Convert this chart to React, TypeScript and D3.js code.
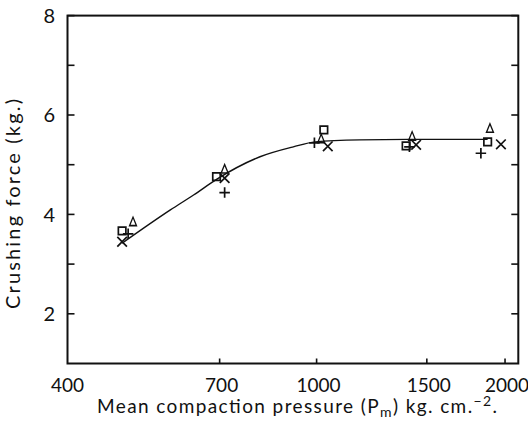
import React from "react";
import * as d3 from "d3";

// values
const curvePressure = [489, 584, 636, 693, 812, 918, 995, 1173, 1400, 1876];
const curveForce = [3.42, 4.09, 4.39, 4.71, 5.16, 5.36, 5.46, 5.5, 5.51, 5.51];

const squarePressure = [489, 692, 1027, 1390, 1876];
const squareForce = [3.67, 4.76, 5.7, 5.38, 5.46];
const trianglePressure = [509, 713, 1017, 1421, 1892];
const triangleForce = [3.83, 4.89, 5.5, 5.55, 5.71];
const crossPressure = [489, 713, 1042, 1442, 1970];
const crossForce = [3.45, 4.73, 5.37, 5.4, 5.41];
const plusPressure = [500, 713, 992, 1407, 1830];
const plusForce = [3.61, 4.44, 5.44, 5.36, 5.23];

const xTicks = [400, 700, 1000, 1500, 2000];
const yLabelTicks = [2, 4, 6, 8];
const yAllTicks = [2, 3, 4, 5, 6, 7, 8];

const width = 528;
const height = 429;
const font = "Lato, 'Open Sans', sans-serif";

const App = () => {
  const x = d3.scaleLog().domain([400, 2100]).range([67.5, 518.3]);
  const y = d3.scaleLinear().domain([1, 8]).range([363.5, 15.6]);

  const line = d3
    .line<number>()
    .x((_, i) => x(curvePressure[i]))
    .y(d => y(d))
    .curve(d3.curveMonotoneX);

  const sq = d3.symbol().type(d3.symbolSquare2).size(72)();
  const tri = d3.symbol().type(d3.symbolTriangle2).size(70)();
  const cross = d3.symbol().type(d3.symbolX).size(62)();
  const plus = d3.symbol().type(d3.symbolPlus).size(38)();

  const series = [
    { p: squarePressure, f: squareForce, path: sq, sx: 1 },
    { p: trianglePressure, f: triangleForce, path: tri, sx: 0.7 },
    { p: crossPressure, f: crossForce, path: cross, sx: 1 },
    { p: plusPressure, f: plusForce, path: plus, sx: 1 },
  ];

  const x0 = x(400);
  const x1 = x(2100);
  const yTop = y(8);
  const yBot = y(1);

  return (
    <svg
      width={width}
      height={height}
      style={{ position: "absolute", left: 0, top: 0, background: "#fff" }}
    >
      {/* frame */}
      <rect
        x={x0}
        y={yTop}
        width={x1 - x0}
        height={yBot - yTop}
        fill="none"
        stroke="#111"
        strokeWidth={2}
      />
      {/* y ticks, left and right, pointing in */}
      {yAllTicks.map(t => (
        <g key={"yt" + t}>
          <line x1={x0} x2={x0 + 7} y1={y(t)} y2={y(t)} stroke="#111" strokeWidth={1.6} />
          <line x1={x1} x2={x1 - 7} y1={y(t)} y2={y(t)} stroke="#111" strokeWidth={1.6} />
        </g>
      ))}
      {yLabelTicks.map(t => (
        <text
          key={"yl" + t}
          x={55}
          y={y(t)}
          dy="0.36em"
          textAnchor="end"
          fontFamily={font}
          fontSize={20}
          fill="#111"
        >
          {t}
        </text>
      ))}
      {/* x ticks */}
      {xTicks.slice(1).map(t => (
        <line key={"xt" + t} x1={x(t)} x2={x(t)} y1={yBot} y2={yBot - 5} stroke="#111" strokeWidth={1.6} />
      ))}
      {xTicks.map(t => (
        <text
          key={"xl" + t}
          x={x(t) + (t === 400 ? 0 : 2)}
          y={392}
          textAnchor="middle"
          fontFamily={font}
          fontSize={19}
          fill="#111"
        >
          {t}
        </text>
      ))}
      {/* fitted curve */}
      <path d={line(curveForce) || ""} fill="none" stroke="#111" strokeWidth={1.4} />
      {/* points */}
      {series.map((s, si) =>
        s.p.map((p, i) => (
          <path
            key={si + "-" + i}
            d={s.path || ""}
            transform={`translate(${x(p)},${y(s.f[i])}) scale(${s.sx},1)`}
            fill="none"
            stroke="#111"
            strokeWidth={1.7}
          />
        ))
      )}
      {/* axis titles */}
      <text
        transform="translate(20,204) rotate(-90)"
        textAnchor="middle"
        fontFamily={font}
        fontSize={20}
        fill="#111"
        textLength={210}
        lengthAdjust="spacing"
      >
        Crushing force (kg.)
      </text>
      <text
        x={97}
        y={413}
        fontFamily={font}
        fontSize={19}
        fill="#111"
        textLength={400}
        lengthAdjust="spacing"
      >
        Mean compaction pressure (P
        <tspan fontSize={14} dy={4}>m</tspan>
        <tspan dy={-4}>) kg. cm.</tspan>
        <tspan fontSize={14} dy={-7}>−2</tspan>
        <tspan dy={7}>.</tspan>
      </text>
    </svg>
  );
};

export default App;
